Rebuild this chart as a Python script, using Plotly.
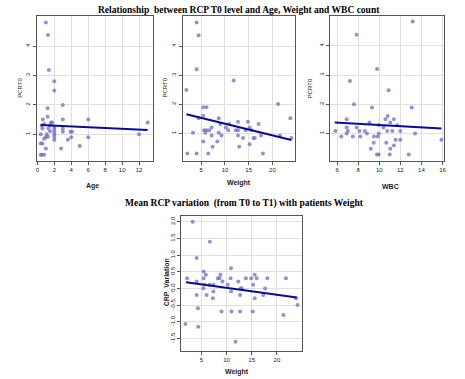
import plotly.graph_objects as go

# ---- Panel 1: Age vs PCRT0 ----
age_x = [1.0, 1.25, 1.35, 2.0, 2.0, 1.2, 3.0, 1.2, 0.65, 3.0, 6.0, 13.0, 1.75, 0.5, 0.8, 1.5,
         2.0, 2.0, 2.0, 2.0, 2.0, 2.0, 1.3, 1.5, 1.1, 3.0, 3.0, 3.9, 4.1, 4.0, 6.0, 0.4,
         12.0, 1.0, 1.25, 0.8, 3.6, 0.4, 0.6, 5.0, 1.0, 2.8, 0.4, 0.55, 0.8, 1.6, 0.6]
age_y = [4.81, 4.38, 3.19, 2.81, 2.49, 1.89, 2.0, 1.6, 1.5, 1.5, 1.5, 1.4, 1.4, 1.3, 1.35, 1.3,
         1.26, 1.18, 1.09, 1.0, 0.92, 0.81, 1.2, 1.1, 1.0, 1.2, 1.09, 1.09, 1.09, 0.9, 0.9, 1.0,
         1.0, 0.9, 0.92, 0.85, 0.81, 0.69, 0.69, 0.6, 0.52, 0.52, 0.3, 0.3, 0.3, 1.4, 1.2]
age_fit = [1.325, -0.0135]   # intercept, slope
age_fit_x = [0.4, 13.0]

# ---- Panel 2: Weight vs PCRT0 ----
wt_x = [4.02, 4.44, 4.02, 11.84, 1.86, 5.42, 6.1, 21.2, 5.42, 4.44, 8.7, 23.8, 12.75, 14.84, 17.1,
        7.2, 9.0, 10.9, 10.2, 15.2, 5.6, 6.1, 6.7, 10.7, 12.3, 12.75, 14.35, 15.6, 3.26, 5.84,
        8.7, 7.2, 9.26, 12.75, 13.8, 16.0, 16.3, 17.6, 21.6, 24.0, 5.42, 8.4, 7.4, 13.0, 15.2,
        2.07, 4.02, 6.47, 18.0]
wt_y = [4.82, 4.38, 3.21, 2.82, 2.49, 1.9, 1.9, 2.01, 1.61, 1.52, 1.52, 1.52, 1.4, 1.4, 1.32,
        1.2, 1.32, 1.32, 1.2, 1.2, 1.11, 1.11, 1.11, 1.11, 1.11, 1.11, 1.11, 1.11, 1.02, 1.02,
        1.02, 0.93, 0.93, 0.93, 0.84, 0.84, 0.84, 0.93, 0.93, 0.84, 0.72, 0.72, 0.54, 0.54, 0.63,
        0.31, 0.31, 0.31, 0.31]
wt_fit = [1.73, -0.040]
wt_fit_x = [1.86, 24.0]

# ---- Panel 3: WBC vs PCRT0 ----
wbc_x = [13.18, 7.85, 9.79, 7.22, 10.89, 7.6, 9.32, 13.08, 6.91, 10.6, 10.8, 11.39, 5.84, 6.91,
         7.03, 7.85, 9.07, 9.95, 10.4, 11.05, 11.7, 8.13, 8.63, 10.76, 11.24, 12.0, 6.91, 8.83,
         9.95, 13.4, 6.4, 7.5, 8.2, 9.5, 9.86, 11.55, 12.0, 15.9, 9.48, 10.67, 11.39, 9.2, 11.05,
         9.79, 9.95, 11.0, 12.8]
wbc_y = [4.83, 4.38, 3.21, 2.8, 2.48, 2.0, 1.89, 1.89, 1.49, 1.49, 1.6, 1.49, 1.09, 1.21,
         1.09, 1.21, 1.38, 1.29, 1.21, 1.38, 1.28, 1.09, 1.09, 1.09, 1.09, 1.09, 1.0, 1.0,
         1.0, 1.0, 0.9, 0.9, 0.9, 0.9, 0.9, 0.79, 0.79, 0.79, 0.68, 0.68, 0.59, 0.48, 0.48,
         0.28, 0.28, 0.28, 0.28]
wbc_fit = [1.50, -0.0207]
wbc_fit_x = [5.78, 15.9]

# ---- Panel 4: Weight vs CRP variation ----
var_x = [3.3, 6.7, 4.08, 10.9, 5.46, 2.18, 4.08, 5.9, 5.46, 8.8, 8.28, 8.6, 9.2, 10.8, 12.34,
         13.85, 14.9, 15.6, 16.0, 18.1, 21.8, 5.6, 6.6, 7.4, 10.25, 13.0, 15.3, 5.4, 17.65, 12.8,
         7.4, 10.9, 4.08, 6.05, 12.7, 17.3, 7.3, 15.6, 23.8, 24.1, 4.34, 9.0, 11.0, 12.7, 15.2,
         21.3, 1.85, 4.4, 11.8]
var_y = [2.0, 1.4, 0.91, 0.61, 0.51, 0.31, 0.21, 0.41, 0.31, 0.41, 0.31, 0.31, 0.21, 0.31, 0.21,
         0.31, 0.31, 0.41, 0.31, 0.31, 0.31, 0.11, 0.11, 0.11, 0.11, 0.01, 0.11, 0.0, 0.0, 0.0,
         -0.09, -0.09, -0.19, -0.19, -0.19, -0.19, -0.29, -0.29, -0.29, -0.49, -0.59, -0.69, -0.69,
         -0.69, -0.69, -0.79, -1.06, -1.14, -1.59]
var_fit = [0.231, -0.0209]
var_fit_x = [1.98, 23.95]

y_ticks_top = [1, 2, 3, 4]
age_ticks = [0, 2, 4, 6, 8, 10, 12]
wt_ticks = [5, 10, 15, 20]
wbc_ticks = [6, 8, 10, 12, 14, 16]
var_y_ticks = [2.0, 1.5, 1.0, 0.5, 0.0, -0.5, -1.0, -1.5]
var_y_labels = ["2.0", "1.5", "1.0", "0.5", "0.0", "-0.5", "-1.0", "-1.5"]

title_top = "Relationship  between RCP T0 level and Age, Weight and WBC count"
title_bottom = "Mean RCP variation  (from T0 to T1) with patients Weight"

W, H = 465, 379
MARK = dict(color="rgba(110,110,195,0.75)", size=4)
LINE = dict(color="#0a0a9a", width=2)

fig = go.Figure()

panels = [
    ("x", "y", age_x, age_y, age_fit, age_fit_x),
    ("x2", "y2", wt_x, wt_y, wt_fit, wt_fit_x),
    ("x3", "y3", wbc_x, wbc_y, wbc_fit, wbc_fit_x),
    ("x4", "y4", var_x, var_y, var_fit, var_fit_x),
]
for xa, ya, xs, ys, fit, fx in panels:
    fig.add_trace(go.Scatter(x=xs, y=ys, mode="markers", marker=MARK, xaxis=xa, yaxis=ya,
                             showlegend=False, hoverinfo="skip"))
    fy = [fit[0] + fit[1] * v for v in fx]
    fig.add_trace(go.Scatter(x=fx, y=fy, mode="lines", line=LINE, xaxis=xa, yaxis=ya,
                             showlegend=False, hoverinfo="skip"))

def px(v):
    return v / W

def py(v):
    return 1 - v / H

common = dict(showline=True, mirror=True, linecolor="#555", linewidth=1,
              showgrid=True, gridcolor="#e0e0e0", gridwidth=1, zeroline=False,
              ticks="outside", ticklen=3, tickcolor="#555",
              tickfont=dict(family="Liberation Sans", size=6, color="#222"))

fig.update_layout(
    width=W, height=H, autosize=False,
    margin=dict(l=0, r=0, t=0, b=0),
    paper_bgcolor="white", plot_bgcolor="white",
    xaxis=dict(domain=[px(36), px(153)], range=[-0.08, 13.6], tickvals=age_ticks, anchor="y", **common),
    yaxis=dict(domain=[py(161), py(16)], range=[0.09, 5.03], tickvals=y_ticks_top, tickangle=-90, anchor="x", **common),
    xaxis2=dict(domain=[px(183.3), px(296.7)], range=[1.09, 24.8], tickvals=wt_ticks, anchor="y2", **common),
    yaxis2=dict(domain=[py(161), py(16)], range=[0.05, 5.04], tickvals=y_ticks_top, tickangle=-90, anchor="x2", **common),
    xaxis3=dict(domain=[px(332.3), px(446.7)], range=[5.37, 16.13], tickvals=wbc_ticks, anchor="y3", **common),
    yaxis3=dict(domain=[py(161), py(16)], range=[0.06, 5.02], tickvals=y_ticks_top, tickangle=-90, anchor="x3", **common),
    xaxis4=dict(domain=[px(181.7), px(304)], range=[1.0, 25.06], tickvals=wt_ticks, anchor="y4", **common),
    yaxis4=dict(domain=[py(350.7), py(216)], range=[-1.86, 2.17], tickvals=var_y_ticks, ticktext=var_y_labels,
                tickangle=-90, anchor="x4", **common),
)

ann = []
tfont = dict(family="Liberation Serif", size=9.5, color="black")
ann.append(dict(text="<b>" + title_top + "</b>", x=px(240), y=py(10), xref="paper", yref="paper",
                showarrow=False, font=tfont, xanchor="center", yanchor="middle"))
ann.append(dict(text="<b>" + title_bottom + "</b>", x=px(246), y=py(203), xref="paper", yref="paper",
                showarrow=False, font=tfont, xanchor="center", yanchor="middle"))

afont = dict(family="Liberation Sans", size=7, color="#222")
for txt, x, y in [("Age", 92, 186), ("Weight", 240, 183), ("WBC", 393, 186), ("Weight", 238, 371.7)]:
    ann.append(dict(text="<b>" + txt + "</b>", x=px(x), y=py(y), xref="paper", yref="paper",
                    showarrow=False, font=afont, xanchor="center", yanchor="middle"))
for txt, x, y in [("PCRT0", 19, 88), ("PCRT0", 165, 88), ("PCRT0", 312, 88), ("CRP  Variation", 166.7, 282)]:
    ann.append(dict(text="<b>" + txt + "</b>" if "CRP" in txt else txt, x=px(x), y=py(y), xref="paper", yref="paper",
                    showarrow=False, font=afont if "CRP" in txt else dict(family="Liberation Sans", size=6, color="#222"),
                    textangle=-90, xanchor="center", yanchor="middle"))
fig.update_layout(annotations=ann)

fig.write_html("out.html", config={"displayModeBar": False},
               post_script="document.body.style.margin='0';")
